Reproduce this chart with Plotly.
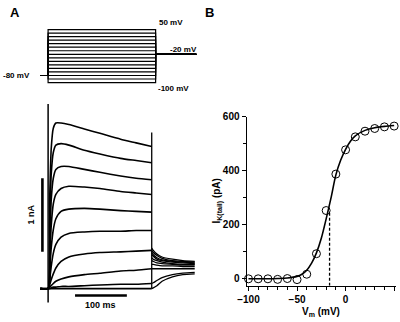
import plotly.graph_objects as go

# ---------------- Panel A: voltage protocol ----------------
step_mV = [-100, -90, -80, -70, -60, -50, -40, -30, -20, -10, 0, 10, 20, 30, 40, 50]
hold_mV = -80
tail_mV = -20
proto_t_ms = [-15, 0, 200, 276]   # holding start, step on, step off, tail end

# ---------------- Panel A: current traces (nA) ----------------
t_step_ms = [-15, 0, 3, 6, 10, 15, 25, 40, 70, 100, 140, 170, 200]
i_p50 = [0, 0, 1.20, 1.90, 2.18, 2.25, 2.25, 2.23, 2.17, 2.11, 2.03, 1.98, 1.93]
i_p40 = [0, 0, 0.90, 1.55, 1.85, 1.95, 1.97, 1.95, 1.88, 1.83, 1.77, 1.74, 1.71]
i_p30 = [0, 0, 0.60, 1.20, 1.50, 1.62, 1.66, 1.66, 1.62, 1.58, 1.53, 1.50, 1.48]
i_p20 = [0, 0, 0.40, 0.85, 1.15, 1.28, 1.36, 1.39, 1.38, 1.36, 1.32, 1.30, 1.28]
i_p10 = [0, 0, 0.25, 0.55, 0.80, 0.95, 1.05, 1.08, 1.09, 1.08, 1.06, 1.05, 1.04]
i_0 = [0, 0, 0.12, 0.30, 0.48, 0.60, 0.70, 0.75, 0.77, 0.78, 0.78, 0.79, 0.79]
i_m10 = [0, 0, 0.05, 0.12, 0.20, 0.28, 0.37, 0.43, 0.47, 0.49, 0.50, 0.51, 0.52]
i_m20 = [0, 0, 0.02, 0.04, 0.07, 0.10, 0.13, 0.16, 0.19, 0.21, 0.24, 0.25, 0.27]
i_m30 = [0, 0, 0.00, 0.01, 0.02, 0.02, 0.03, 0.03, 0.04, 0.05, 0.06, 0.06, 0.07]
i_base = [0, 0, 0, 0, 0, 0, 0, 0, 0, 0, 0, 0, 0]

t_tail_ms = [200, 203, 210, 220, 240, 260, 283]
tail_p50 = [0.55, 0.52, 0.47, 0.43, 0.40, 0.38, 0.37]
tail_p40 = [0.52, 0.49, 0.45, 0.41, 0.38, 0.37, 0.36]
tail_p30 = [0.49, 0.46, 0.42, 0.39, 0.37, 0.36, 0.35]
tail_p20 = [0.46, 0.44, 0.40, 0.38, 0.36, 0.35, 0.34]
tail_p10 = [0.42, 0.40, 0.38, 0.36, 0.34, 0.33, 0.33]
tail_0 = [0.38, 0.37, 0.35, 0.34, 0.33, 0.32, 0.32]
tail_m10 = [0.33, 0.33, 0.32, 0.31, 0.31, 0.30, 0.30]
tail_m20 = [0.27, 0.27, 0.27, 0.27, 0.27, 0.27, 0.27]
tail_m30 = [0.07, 0.08, 0.11, 0.15, 0.19, 0.21, 0.22]
tail_base = [0.00, 0.01, 0.04, 0.10, 0.16, 0.19, 0.20]

artifact_on_nA = [2.51, -0.19]
artifact_off_nA = [0.0, 2.12]
scalebar_nA = [0.5, 1.5]
scalebar_nA_t = -11
scalebar_ms = [52, 152]
scalebar_ms_y = -0.093

# ---------------- Panel B: tail current vs Vm ----------------
vm_mV = [-100, -90, -80, -70, -60, -50, -40, -30, -20, -10, 0, 10, 20, 30, 40, 50]
ik_tail_pA = [0, 0, 0, -2, 1, -3, 17, 93, 253, 388, 478, 526, 547, 557, 563, 566]
fit_vm = [-100, -90, -80, -70, -60, -50, -45, -40, -35, -30, -25, -20, -15, -10, -5, 0, 5, 10, 20, 30, 40, 50]
fit_pA = [0, 0, 0, 1, 3, 9, 17, 32, 58, 96, 150, 222, 300, 385, 440, 480, 510, 530, 550, 560, 565, 568]
v_half = -16.5
dash_pA = [-25.5, 250]

FONT = "Liberation Sans, Arial, sans-serif"
fig = go.Figure()

# protocol
for v in step_mV:
    fig.add_trace(go.Scatter(
        x=[proto_t_ms[0], proto_t_ms[1], proto_t_ms[1], proto_t_ms[2], proto_t_ms[2], proto_t_ms[3]],
        y=[hold_mV, hold_mV, v, v, tail_mV, tail_mV],
        mode="lines", line=dict(color="black", width=1.2),
        xaxis="x2", yaxis="y2", showlegend=False, hoverinfo="skip"))

# currents
steps = [i_base, i_m30, i_m20, i_m10, i_0, i_p10, i_p20, i_p30, i_p40, i_p50]
tails = [tail_base, tail_m30, tail_m20, tail_m10, tail_0, tail_p10, tail_p20, tail_p30, tail_p40, tail_p50]
for s, tl in zip(steps, tails):
    fig.add_trace(go.Scatter(x=t_step_ms, y=s, mode="lines",
                             line=dict(color="black", width=1.6, shape="spline", smoothing=0.6),
                             xaxis="x3", yaxis="y3", showlegend=False, hoverinfo="skip"))
    fig.add_trace(go.Scatter(x=t_tail_ms, y=tl, mode="lines",
                             line=dict(color="black", width=1.3, shape="spline", smoothing=0.6),
                             xaxis="x3", yaxis="y3", showlegend=False, hoverinfo="skip"))

fig.add_trace(go.Scatter(x=[0, 0], y=artifact_on_nA, mode="lines",
                         line=dict(color="black", width=1.5), xaxis="x3", yaxis="y3",
                         showlegend=False, hoverinfo="skip"))
fig.add_trace(go.Scatter(x=[200, 200], y=artifact_off_nA, mode="lines",
                         line=dict(color="black", width=1.3), xaxis="x3", yaxis="y3",
                         showlegend=False, hoverinfo="skip"))
fig.add_trace(go.Scatter(x=[scalebar_nA_t, scalebar_nA_t], y=scalebar_nA, mode="lines",
                         line=dict(color="black", width=2.6), xaxis="x3", yaxis="y3",
                         showlegend=False, hoverinfo="skip"))
fig.add_trace(go.Scatter(x=scalebar_ms, y=[scalebar_ms_y, scalebar_ms_y], mode="lines",
                         line=dict(color="black", width=2.4), xaxis="x3", yaxis="y3",
                         showlegend=False, hoverinfo="skip"))

# panel B
fig.add_trace(go.Scatter(x=[v_half, v_half], y=dash_pA, mode="lines",
                         line=dict(color="black", width=1.3, dash="3px,2px"),
                         showlegend=False, hoverinfo="skip"))
fig.add_trace(go.Scatter(x=fit_vm, y=fit_pA, mode="lines",
                         line=dict(color="black", width=1.6, shape="spline", smoothing=0.8),
                         showlegend=False, hoverinfo="skip"))
fig.add_trace(go.Scatter(x=vm_mV, y=ik_tail_pA, mode="markers", cliponaxis=False,
                         marker=dict(symbol="circle-open", size=8, color="black",
                                     line=dict(width=1, color="black")),
                         showlegend=False, hoverinfo="skip"))

tickfont = dict(family=FONT, size=10, color="black", weight="bold")
fig.update_layout(
    width=400, height=322, margin=dict(l=0, r=0, t=0, b=0),
    paper_bgcolor="white", plot_bgcolor="rgba(0,0,0,0)",
    xaxis=dict(domain=[0.6075, 0.98875], range=[-102, 51.5], showgrid=False, zeroline=False,
               showline=True, linecolor="black", linewidth=1,
               tickmode="linear", tick0=0, dtick=50, ticks="outside", ticklen=4,
               tickcolor="black", tickwidth=1, tickfont=tickfont,
               minor=dict(dtick=10, tick0=0, ticks="outside", ticklen=3, tickcolor="black", tickwidth=1)),
    yaxis=dict(domain=[0.11491, 0.64907], range=[-25.5, 600], showgrid=False, zeroline=False,
               showline=True, linecolor="black", linewidth=1,
               tickmode="linear", tick0=0, dtick=200, ticks="outside", ticklen=4,
               tickcolor="black", tickwidth=1, tickfont=tickfont,
               minor=dict(dtick=100, tick0=0, ticks="outside", ticklen=3, tickcolor="black", tickwidth=1)),
    xaxis2=dict(domain=[31.75 / 400, 191.8 / 400], range=[-15, 276], visible=False),
    yaxis2=dict(domain=[1 - 79.8 / 322, 1 - 22.2 / 322], range=[-105, 55], visible=False),
    xaxis3=dict(domain=[31 / 400, 193.7 / 400], range=[-17, 290], visible=False),
    yaxis3=dict(domain=[1 - 306.75 / 322, 1 - 93 / 322], range=[-0.25, 2.6], visible=False),
)

def ann(text, x, y, size, xanchor="center", angle=0):
    fig.add_annotation(text=text, x=x, y=y, xref="paper", yref="paper", showarrow=False,
                       xanchor=xanchor, yanchor="middle", textangle=angle,
                       font=dict(family=FONT, size=size, color="black", weight="bold"))

ann("A", 6 / 400, 1 - 7 / 322, 13)
ann("B", 205 / 400, 1 - 7 / 322, 13)
ann("50 mV", 151 / 400, 1 - 17 / 322, 8, "left")
ann("-20 mV", 163 / 400, 1 - 44 / 322, 8, "left")
ann("-100 mV", 150 / 400, 1 - 84 / 322, 8, "left")
ann("-80 mV", 24 / 400, 1 - 70.7 / 322, 8, "right")
ann("1 nA", 23 / 400, 1 - 212 / 322, 9, angle=-90)
ann("100 ms", 94 / 400, 1 - 305 / 322, 9)
ann("I<sub>K(tail)</sub> (pA)", 213 / 400, 1 - 199 / 322, 10, angle=-90)
ann("V<sub>m</sub> (mV)", 319 / 400, 1 - 312 / 322, 10)

fig.write_html("out.html", config={"displayModeBar": False},
               post_script="document.body.style.margin='0';document.body.style.overflow='hidden';")
